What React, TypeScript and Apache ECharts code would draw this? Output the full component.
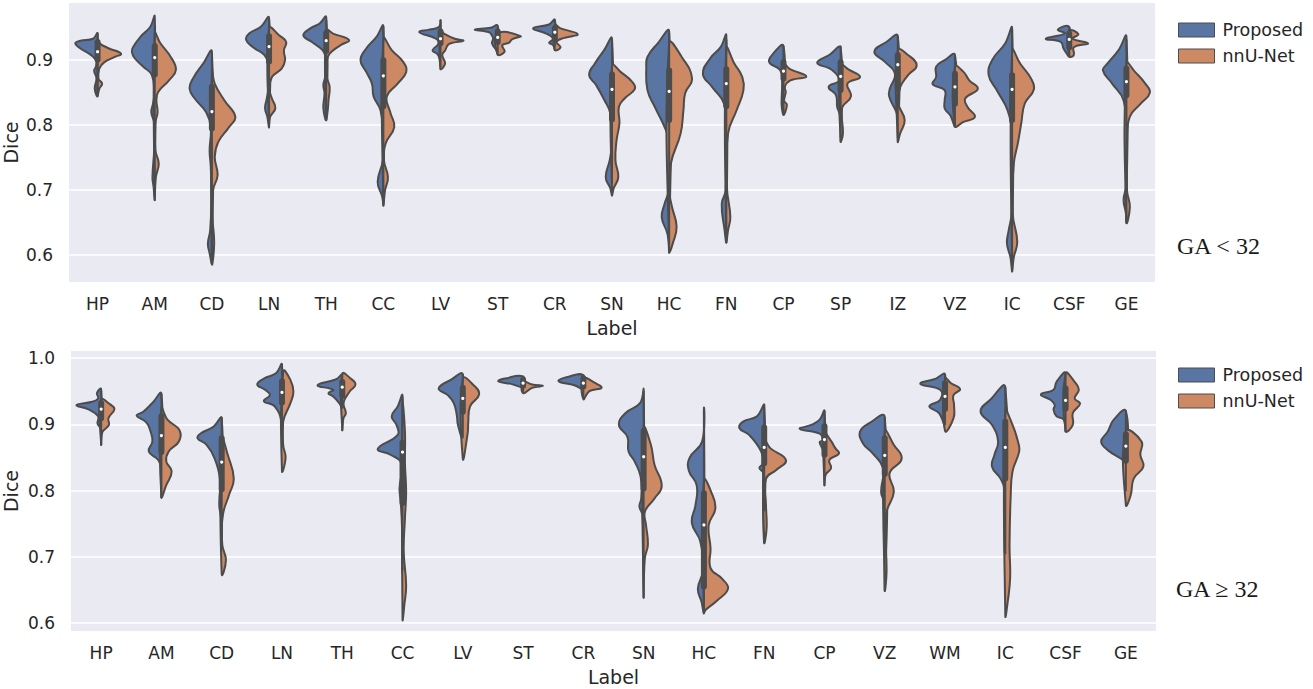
import { useEffect, useRef } from "react";
import * as echarts from "echarts";

type Profile = [number, number][];

// every profile runs top to bottom: [dice, density as % of a category band]
const topLabels = ["HP", "AM", "CD", "LN", "TH", "CC", "LV", "ST", "CR", "SN", "HC", "FN", "CP", "SP", "IZ", "VZ", "IC", "CSF", "GE"];
const bottomLabels = ["HP", "AM", "CD", "LN", "TH", "CC", "LV", "ST", "CR", "SN", "HC", "FN", "CP", "VZ", "WM", "IC", "CSF", "GE"];
const topTicks = [0.6, 0.7, 0.8, 0.9];
const bottomTicks = [0.6, 0.7, 0.8, 0.9, 1.0];

const topProposed: Profile[] = [
  [[.94,0],[.932,8],[.929,30],[.925,39],[.917,30],[.908,13],[.899,3],[.889,3],[.883,6],[.871,2],[.855,5],[.844,0]],
  [[.966,0],[.95,8],[.935,25],[.919,38],[.912,40],[.902,35],[.889,20],[.876,5],[.848,1],[.832,3],[.819,6],[.802,1],[.761,1],[.719,4],[.704,2],[.686,0]],
  [[.912,0],[.894,15],[.871,33],[.855,39],[.84,30],[.819,10],[.796,2],[.76,4],[.735,2],[.684,1],[.637,3],[.617,7],[.602,4],[.587,0]],
  [[.964,0],[.95,15],[.94,35],[.93,40],[.919,28],[.907,8],[.894,2],[.858,1],[.84,4],[.825,7],[.812,3],[.797,0]],
  [[.965,0],[.955,12],[.948,28],[.937,40],[.927,25],[.914,6],[.902,1],[.873,2],[.861,5],[.848,3],[.825,5],[.808,0]],
  [[.951,0],[.935,12],[.917,30],[.899,40],[.881,30],[.863,20],[.843,17],[.822,5],[.786,1],[.745,1],[.712,10],[.689,2],[.677,0]],
  [[.96,0],[.95,3],[.946,20],[.942,37],[.932,8],[.925,3],[.914,14],[.908,5],[.899,1],[.886,0]],
  [[.952,0],[.949,12],[.946,40],[.942,15],[.937,10],[.932,8],[.925,10],[.914,2],[.908,0]],
  [[.961,0],[.954,10],[.948,38],[.94,15],[.932,3],[.926,10],[.922,3],[.915,0]],
  [[.932,0],[.914,14],[.894,30],[.876,40],[.861,28],[.837,13],[.817,3],[.766,1],[.745,4],[.719,11],[.702,3],[.692,0]],
  [[.943,0],[.925,20],[.904,38],[.889,40],[.853,38],[.827,25],[.796,8],[.776,1],[.699,1],[.678,8],[.657,13],[.632,3],[.605,0]],
  [[.937,0],[.919,10],[.902,28],[.878,41],[.858,25],[.832,4],[.786,1],[.699,1],[.678,8],[.637,3],[.62,0]],
  [[.921,0],[.909,18],[.896,25],[.884,6],[.868,2],[.845,3],[.827,3],[.816,0]],
  [[.918,0],[.907,20],[.895,41],[.884,15],[.868,3],[.858,21],[.845,8],[.827,6],[.814,1],[.775,0]],
  [[.936,0],[.927,20],[.912,41],[.896,22],[.878,5],[.855,14],[.843,15],[.822,4],[.814,1],[.775,0]],
  [[.907,0],[.899,18],[.889,33],[.873,33],[.862,39],[.853,18],[.837,18],[.825,18],[.814,8],[.798,0]],
  [[.948,0],[.925,12],[.899,35],[.876,41],[.853,27],[.822,8],[.786,1],[.663,1],[.637,6],[.617,9],[.596,3],[.576,0]],
  [[.95,0],[.946,20],[.94,8],[.932,41],[.927,15],[.917,10],[.91,5],[.905,0]],
  [[.935,0],[.914,14],[.894,33],[.883,41],[.863,25],[.837,5],[.786,1],[.704,1],[.684,5],[.664,1],[.65,0]],
];
const topNnunet: Profile[] = [
  [[.925,2],[.922,8],[.917,20],[.909,41],[.904,30],[.896,12],[.886,3],[.871,1],[.863,8],[.855,3],[.845,0]],
  [[.94,0],[.925,10],[.904,28],[.884,37],[.868,25],[.85,6],[.837,3],[.819,5],[.802,1],[.761,1],[.74,7],[.719,2],[.686,0]],
  [[.884,0],[.863,5],[.837,22],[.812,41],[.796,30],[.773,11],[.75,5],[.722,10],[.699,2],[.658,1],[.617,4],[.587,0]],
  [[.948,0],[.937,18],[.927,30],[.914,26],[.899,28],[.886,22],[.873,5],[.853,1],[.84,5],[.825,11],[.812,2],[.797,0]],
  [[.945,0],[.94,12],[.93,40],[.922,25],[.909,6],[.898,1],[.873,1],[.858,6],[.837,4],[.825,3],[.808,0]],
  [[.932,0],[.914,15],[.896,35],[.881,40],[.863,25],[.843,6],[.819,12],[.796,19],[.771,4],[.745,1],[.719,8],[.699,3],[.677,0]],
  [[.945,0],[.94,6],[.932,25],[.929,40],[.924,15],[.914,8],[.907,3],[.894,8],[.886,0]],
  [[.94,0],[.936,40],[.931,25],[.926,20],[.922,8],[.912,12],[.908,0]],
  [[.953,0],[.948,10],[.939,40],[.933,15],[.927,3],[.919,10],[.915,0]],
  [[.891,0],[.881,15],[.866,35],[.855,40],[.84,22],[.827,12],[.802,13],[.776,8],[.745,6],[.719,11],[.702,3],[.692,0]],
  [[.925,0],[.904,22],[.871,40],[.848,28],[.822,25],[.786,20],[.74,3],[.694,1],[.673,5],[.643,13],[.619,7],[.605,0]],
  [[.917,0],[.894,14],[.873,28],[.853,30],[.822,18],[.786,3],[.704,1],[.658,7],[.637,3],[.62,0]],
  [[.894,0],[.886,10],[.874,40],[.868,12],[.858,2],[.85,4],[.837,1],[.83,6],[.816,0]],
  [[.891,0],[.884,15],[.873,34],[.863,12],[.843,18],[.827,3],[.812,2],[.786,4],[.775,0]],
  [[.914,0],[.907,18],[.891,33],[.876,18],[.855,3],[.832,1],[.807,12],[.786,4],[.775,0]],
  [[.889,0],[.881,15],[.868,25],[.855,40],[.84,18],[.827,22],[.812,35],[.804,15],[.798,0]],
  [[.914,0],[.894,14],[.871,33],[.854,38],[.832,22],[.802,16],[.771,10],[.74,3],[.663,1],[.62,9],[.596,3],[.576,0]],
  [[.944,0],[.939,16],[.932,6],[.925,33],[.919,8],[.907,8],[.905,0]],
  [[.894,0],[.881,15],[.863,33],[.849,41],[.832,25],[.812,6],[.776,1],[.699,1],[.673,6],[.65,0]],
];
// whisker low, q1, median, q3, whisker high
const topBoxes = [
  [.85,.9,.912,.927,.94],[.69,.877,.903,.921,.95],[.59,.794,.82,.858,.91],[.8,.897,.92,.936,.96],[.81,.913,.929,.941,.96],
  [.68,.828,.875,.899,.95],[.89,.925,.932,.943,.96],[.91,.927,.934,.943,.95],[.92,.932,.942,.948,.96],[.71,.808,.854,.877,.93],
  [.61,.807,.851,.883,.94],[.63,.828,.863,.885,.93],[.82,.871,.882,.896,.92],[.78,.853,.874,.896,.92],[.78,.855,.892,.907,.935],
  [.8,.832,.858,.878,.905],[.58,.807,.854,.876,.945],[.905,.919,.931,.94,.95],[.65,.845,.866,.886,.93],
];

const bottomProposed: Profile[] = [
  [[.953,0],[.947,7],[.939,5],[.934,15],[.929,41],[.922,20],[.912,5],[.901,6],[.894,1],[.87,0]],
  [[.946,0],[.932,15],[.919,30],[.913,41],[.903,25],[.889,18],[.874,15],[.859,21],[.846,5],[.834,1],[.791,0]],
  [[.909,0],[.896,14],[.886,35],[.879,40],[.869,25],[.849,12],[.818,3],[.778,4],[.758,1],[.73,0]],
  [[.99,0],[.977,10],[.969,30],[.96,41],[.952,28],[.944,20],[.935,30],[.927,12],[.902,1],[.83,0]],
  [[.974,0],[.968,10],[.959,41],[.952,15],[.947,23],[.942,15],[.933,6],[.924,1],[.892,0]],
  [[.943,0],[.927,8],[.912,18],[.899,10],[.884,8],[.863,41],[.854,20],[.841,2],[.803,5],[.783,3],[.748,1],[.678,0]],
  [[.975,0],[.967,20],[.954,40],[.944,25],[.932,15],[.914,10],[.899,8],[.879,0]],
  [[.972,0],[.969,30],[.965,41],[.961,20],[.957,0]],
  [[.974,0],[.971,28],[.965,41],[.959,15],[.954,0]],
  [[.952,0],[.932,6],[.917,30],[.899,41],[.881,27],[.859,25],[.844,15],[.821,5],[.788,4],[.776,7],[.763,2],[.698,1],[.642,0]],
  [[.922,0],[.874,3],[.849,24],[.83,25],[.808,12],[.778,14],[.751,20],[.723,6],[.678,2],[.652,10],[.632,4],[.616,0]],
  [[.928,0],[.912,12],[.904,35],[.894,41],[.884,25],[.859,5],[.841,2],[.834,8],[.826,1],[.783,2],[.724,0]],
  [[.92,0],[.907,8],[.899,22],[.893,41],[.886,8],[.876,3],[.873,8],[.859,2],[.809,0]],
  [[.911,0],[.902,25],[.889,41],[.871,36],[.856,20],[.834,3],[.798,6],[.783,2],[.651,0]],
  [[.975,0],[.969,15],[.961,41],[.952,8],[.937,8],[.927,26],[.917,10],[.899,0]],
  [[.956,0],[.937,25],[.919,41],[.899,22],[.874,12],[.854,18],[.836,22],[.818,8],[.803,2],[.708,1],[.705,0]],
  [[.977,0],[.964,15],[.952,20],[.945,41],[.937,25],[.929,18],[.922,20],[.912,15],[.907,3],[.89,0]],
  [[.92,0],[.907,20],[.889,30],[.874,41],[.861,30],[.846,5],[.839,0]],
];
const bottomNnunet: Profile[] = [
  [[.937,0],[.93,15],[.923,22],[.909,12],[.899,13],[.888,2],[.87,0]],
  [[.924,0],[.907,10],[.891,30],[.874,29],[.859,12],[.844,8],[.829,17],[.808,8],[.791,0]],
  [[.879,0],[.854,10],[.818,20],[.793,12],[.763,2],[.718,1],[.695,7],[.674,0]],
  [[.98,2],[.967,14],[.949,19],[.932,14],[.904,2],[.869,2],[.849,6],[.83,0]],
  [[.976,0],[.969,14],[.96,22],[.949,12],[.932,2],[.917,6],[.909,2],[.892,0]],
  [[.929,0],[.889,4],[.841,4],[.798,6],[.758,4],[.708,2],[.657,6],[.627,3],[.606,0]],
  [[.969,0],[.959,18],[.945,27],[.927,12],[.902,9],[.886,8],[.848,0]],
  [[.964,0],[.96,15],[.958,33],[.955,15],[.947,0]],
  [[.969,0],[.962,20],[.955,30],[.95,10],[.938,0]],
  [[.894,0],[.869,12],[.839,18],[.807,30],[.788,18],[.768,2],[.748,4],[.718,7],[.698,2],[.642,0]],
  [[.816,0],[.798,12],[.773,19],[.748,8],[.713,11],[.683,11],[.667,30],[.652,40],[.634,22],[.62,3],[.616,0]],
  [[.876,0],[.864,10],[.846,36],[.831,20],[.818,3],[.778,3],[.743,4],[.722,0]],
  [[.886,0],[.876,10],[.864,18],[.856,24],[.846,8],[.834,11],[.824,2],[.809,0]],
  [[.889,0],[.869,15],[.848,28],[.826,8],[.798,15],[.768,3],[.738,1],[.678,3],[.651,0]],
  [[.969,0],[.962,10],[.953,25],[.944,14],[.929,15],[.909,14],[.89,0]],
  [[.919,0],[.899,12],[.874,21],[.859,23],[.829,12],[.793,9],[.718,7],[.668,8],[.632,4],[.611,0]],
  [[.977,0],[.964,15],[.952,22],[.939,15],[.931,24],[.917,12],[.899,12],[.89,0]],
  [[.889,0],[.874,26],[.854,24],[.836,29],[.818,13],[.793,8],[.778,0]],
];
const bottomBoxes = [
  [.87,.909,.923,.932,.95],[.79,.858,.883,.912,.945],[.73,.802,.843,.879,.91],[.9,.933,.948,.965,.99],[.925,.943,.956,.964,.975],
  [.68,.781,.858,.872,.94],[.88,.919,.939,.955,.975],[.95,.958,.962,.967,.972],[.94,.957,.962,.969,.974],[.7,.803,.851,.89,.95],
  [.62,.655,.748,.796,.92],[.77,.841,.865,.895,.93],[.82,.854,.877,.897,.92],[.75,.825,.853,.879,.91],[.9,.923,.942,.962,.975],
  [.705,.818,.865,.904,.955],[.89,.924,.936,.954,.977],[.8,.845,.867,.885,.92],
];

const proposedColor = "#5875a4";
const nnunetColor = "#cc8963";
const lineColor = "#4c4c4c";
const textColor = "#262626";
const fontFamily = "DejaVu Sans";

const sideItem = (profiles: Profile[], sign: number, fill: string) => (params: any, api: any) => {
  const band = api.size([1, 0])[0];
  const points = profiles[params.dataIndex].map(([v, d]) => {
    const [x, y] = api.coord([api.value(0), v]);
    return [x + (sign * d * band) / 100, y];
  });
  return {
    type: "polygon",
    shape: { points, smooth: 0.45 },
    style: { fill, stroke: lineColor, lineWidth: 2 },
  };
};

const boxItem = (boxes: number[][]) => (params: any, api: any) => {
  const [low, q1, median, q3, high] = boxes[params.dataIndex];
  const pos = (v: number) => api.coord([api.value(0), v]);
  const [x, yLow] = pos(low);
  const seg = (y1: number, y2: number, lineWidth: number) => ({
    type: "line",
    shape: { x1: x, y1, x2: x, y2 },
    style: { stroke: lineColor, lineWidth, lineCap: "round" },
  });
  return {
    type: "group",
    children: [
      seg(yLow, pos(high)[1], 2),
      seg(pos(q1)[1], pos(q3)[1], 6),
      {
        type: "circle",
        shape: { cx: x, cy: pos(median)[1], r: 1.6 },
        style: { fill: "#ffffff" },
      },
    ],
  };
};

const panelSeries = (labels: string[], left: Profile[], right: Profile[], boxes: number[][], axis: number) => {
  const data = labels.map((_, i) => [i]);
  const base = { type: "custom", xAxisIndex: axis, yAxisIndex: axis, data, encode: { x: 0 }, silent: true };
  return [
    { ...base, name: "Proposed", itemStyle: { color: proposedColor }, renderItem: sideItem(left, -1, proposedColor) },
    { ...base, name: "nnU-Net", itemStyle: { color: nnunetColor }, renderItem: sideItem(right, 1, nnunetColor) },
    { ...base, name: "box", renderItem: boxItem(boxes) },
  ];
};

const xAxisFor = (labels: string[], gridIndex: number) => ({
  type: "category",
  gridIndex,
  data: labels,
  name: "Label",
  nameLocation: "middle",
  nameGap: 36,
  nameTextStyle: { fontFamily, fontSize: 19, color: textColor },
  axisLine: { show: false },
  axisTick: { show: false },
  axisLabel: { fontFamily, fontSize: 17, color: textColor, margin: 13, interval: 0 },
  splitLine: { show: false },
});

const yAxisFor = (ticks: number[], min: number, max: number, gridIndex: number, nameGap: number) => ({
  type: "value",
  gridIndex,
  min,
  max,
  name: "Dice",
  nameLocation: "middle",
  nameGap,
  nameMoveOverlap: false,
  nameTextStyle: { fontFamily, fontSize: 19, color: textColor },
  axisLine: { show: false },
  axisTick: { show: false, customValues: ticks },
  axisLabel: {
    customValues: ticks,
    fontFamily,
    fontSize: 17,
    color: textColor,
    margin: 16,
    formatter: (v: number) => v.toFixed(1),
  },
  splitLine: { show: true, lineStyle: { color: "#ffffff", width: 1.5 } },
});

const legendFor = (top: number) => ({
  left: 1173,
  top,
  orient: "vertical",
  itemWidth: 36,
  itemHeight: 14,
  itemGap: 8,
  icon: "rect",
  data: [
    { name: "Proposed", itemStyle: { color: proposedColor, borderColor: lineColor, borderWidth: 1 } },
    { name: "nnU-Net", itemStyle: { color: nnunetColor, borderColor: lineColor, borderWidth: 1 } },
  ],
  textStyle: { fontFamily, fontSize: 17.5, color: textColor, padding: [0, 0, 0, 3] },
  selectedMode: false,
});

export default function App() {
  const ref = useRef<HTMLDivElement>(null);
  useEffect(() => {
    if (!ref.current) return;
    const chart = echarts.init(ref.current, null, { renderer: "svg" });
    chart.setOption({
      animation: false,
      backgroundColor: "#ffffff",
      grid: [
        { left: 69, top: 3, width: 1086, height: 279, show: true, backgroundColor: "#eaeaf2", borderWidth: 0, outerBoundsMode: "none" },
        { left: 71, top: 351, width: 1085, height: 280, show: true, backgroundColor: "#eaeaf2", borderWidth: 0, outerBoundsMode: "none" },
      ],
      xAxis: [xAxisFor(topLabels, 0), xAxisFor(bottomLabels, 1)],
      yAxis: [yAxisFor(topTicks, 0.5577, 0.987, 0, 49), yAxisFor(bottomTicks, 0.588, 1.0106, 1, 51)],
      legend: [legendFor(16), legendFor(361)],
      series: [
        ...panelSeries(topLabels, topProposed, topNnunet, topBoxes, 0),
        ...panelSeries(bottomLabels, bottomProposed, bottomNnunet, bottomBoxes, 1),
      ],
      graphic: [
        {
          type: "text",
          x: 1177,
          y: 234,
          style: { text: "GA < 32", fontFamily: "Liberation Serif", fontSize: 24, fill: "#1a1a1a" },
        },
        {
          type: "text",
          x: 1176,
          y: 577,
          style: { text: "GA ≥ 32", fontFamily: "Liberation Serif", fontSize: 24, fill: "#1a1a1a" },
        },
      ],
    });
    return () => chart.dispose();
  }, []);
  return <div ref={ref} style={{ position: "fixed", left: 0, top: 0, width: 1313, height: 689 }} />;
}
